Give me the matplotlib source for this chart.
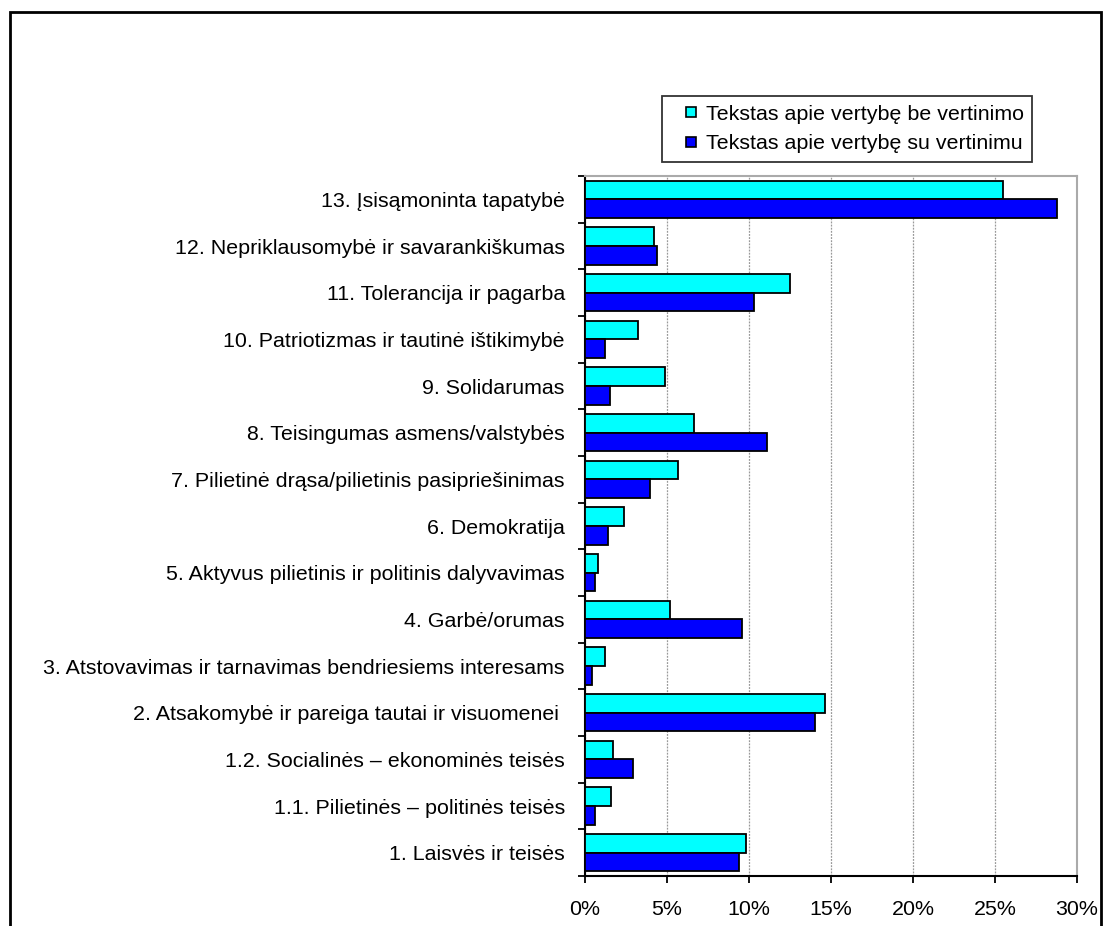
import matplotlib
matplotlib.use("Agg")
import matplotlib.pyplot as plt
import numpy as np
from matplotlib.patches import Rectangle, Patch
from matplotlib.legend_handler import HandlerPatch

plt.rcParams['font.family'] = ['Liberation Sans', 'DejaVu Sans']

# kategorijos, iš apačios į viršų
categories = [
    "1. Laisvės ir teisės",
    "1.1. Pilietinės – politinės teisės",
    "1.2. Socialinės – ekonominės teisės",
    "2. Atsakomybė ir pareiga tautai ir visuomenei ",
    "3. Atstovavimas ir tarnavimas bendriesiems interesams",
    "4. Garbė/orumas",
    "5. Aktyvus pilietinis ir politinis dalyvavimas",
    "6. Demokratija",
    "7. Pilietinė drąsa/pilietinis pasipriešinimas",
    "8. Teisingumas asmens/valstybės",
    "9. Solidarumas",
    "10. Patriotizmas ir tautinė ištikimybė",
    "11. Tolerancija ir pagarba",
    "12. Nepriklausomybė ir savarankiškumas",
    "13. Įsisąmoninta tapatybė",
]
be_vertinimo = [9.8, 1.6, 1.7, 14.65, 1.2, 5.2, 0.8, 2.4, 5.65, 6.65, 4.85, 3.25, 12.5, 4.2, 25.5]
su_vertinimu = [9.4, 0.6, 2.9, 14.05, 0.4, 9.6, 0.6, 1.4, 3.95, 11.1, 1.5, 1.2, 10.3, 4.4, 28.8]
series_names = ["Tekstas apie vertybę be vertinimo", "Tekstas apie vertybę su vertinimu"]

fs = 15.4


class SquareHandler(HandlerPatch):
    # mažas kvadratėlis dešinėje handle dėžutės pusėje
    def create_artists(self, legend, orig_handle, xdescent, ydescent,
                       width, height, fontsize, trans):
        s = 0.48 * fontsize
        p = Rectangle((-xdescent + width - s, -ydescent + (height - s) / 2), s, s,
                      facecolor=orig_handle.get_facecolor(), edgecolor='black',
                      linewidth=1.2, transform=trans)
        return [p]


fig = plt.figure(figsize=(11.03, 9.26), dpi=100)
ax = fig.add_axes([585/1103, 1 - 876/926, (1077-585)/1103, (876-176)/926])

y = np.arange(len(categories))
h = 0.4
ax.barh(y + h/2, be_vertinimo, height=h, color="#00FFFF", edgecolor="black", linewidth=1.3, zorder=3)
ax.barh(y - h/2, su_vertinimu, height=h, color="#0000FF", edgecolor="black", linewidth=1.3, zorder=3)

ax.set_xlim(0, 30)
ax.set_ylim(-0.5, len(categories) - 0.5)
ax.set_xticks(np.arange(0, 31, 5))
ax.set_xticklabels([f"{v}%" for v in range(0, 31, 5)], fontsize=fs)
ax.set_yticks(y)
ax.set_yticklabels(categories, fontsize=fs)
ax.set_yticks(np.arange(-0.5, len(categories), 1), minor=True)
ax.tick_params(axis='y', which='major', length=0, pad=14.5)
ax.tick_params(axis='y', which='minor', length=5, width=1.3, direction='out')
ax.tick_params(axis='x', length=5, width=1.3, direction='out', pad=12.5)

ax.grid(axis='x', color='#999999', linestyle=(0, (1.5, 1)), linewidth=0.9, zorder=0)
ax.spines['left'].set_linewidth(1.5)
ax.spines['bottom'].set_linewidth(1.5)
ax.spines['top'].set_color('#aaaaaa')
ax.spines['right'].set_color('#aaaaaa')
ax.spines['top'].set_linewidth(1.5)
ax.spines['right'].set_linewidth(1.5)

handles = [Patch(facecolor="#00FFFF", edgecolor="black"), Patch(facecolor="#0000FF", edgecolor="black")]
leg = fig.legend(handles, series_names, loc='upper left',
                 bbox_to_anchor=(662/1103, 1 - 96/926), fontsize=fs,
                 frameon=True, fancybox=False, edgecolor='black',
                 handler_map={Patch: SquareHandler()},
                 handlelength=1.2, handleheight=0.7, handletextpad=0.45,
                 borderpad=0.4, labelspacing=0.5, borderaxespad=0)
leg.get_frame().set_linewidth(1.3)

# išorinis rėmelis
fig.patches.append(Rectangle((10/1103, -0.05), (1101-10)/1103, 1 - 12/926 + 0.05,
                             transform=fig.transFigure, fill=False,
                             edgecolor='black', linewidth=2))

fig.savefig("out.png", dpi=100)
